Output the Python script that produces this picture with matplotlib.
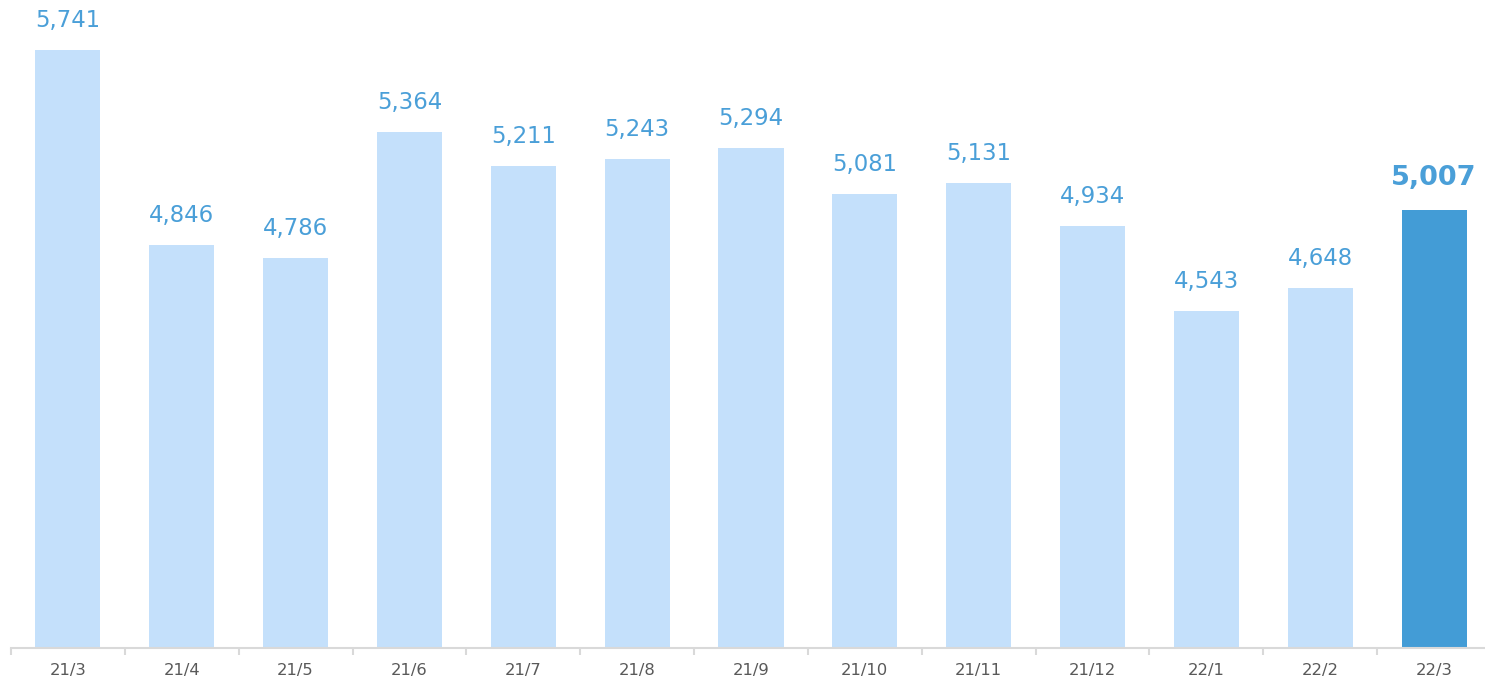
import matplotlib
matplotlib.use("Agg")
import matplotlib.pyplot as plt

categories = ["21/3", "21/4", "21/5", "21/6", "21/7", "21/8", "21/9",
              "21/10", "21/11", "21/12", "22/1", "22/2", "22/3"]
values = [5741, 4846, 4786, 5364, 5211, 5243, 5294, 5081, 5131, 4934, 4543, 4648, 5007]

W, H = 1485, 681
fig = plt.figure(figsize=(W / 100, H / 100), dpi=100)
left = 11 / W
bottom = (H - 647.5) / H
ax = fig.add_axes([left, bottom, 1480 / W, 1 - bottom])

light = "#c4e0fb"
dark = "#439cd6"
label_col = "#4a9fd8"
colors = [light] * (len(values) - 1) + [dark]
x = list(range(len(values)))
ax.bar(x, values, width=0.571, color=colors, bottom=0)
ax.set_ylim(3000, 5972)
ax.set_xlim(-0.5, len(values) - 0.5)

for i, v in enumerate(values):
    last = i == len(values) - 1
    ax.annotate(f"{v:,}", (i, v), xytext=(0, 19 if last else 18),
                textcoords="offset pixels", ha="center", va="bottom",
                fontsize=19.5 if last else 16.4, color=label_col,
                fontweight="bold" if last else "normal")

for s in ["top", "right", "left"]:
    ax.spines[s].set_visible(False)
ax.spines["bottom"].set_color("#d9d9d9")
ax.spines["bottom"].set_linewidth(1.5)
ax.set_yticks([])
ax.set_xticks(x)
ax.set_xticklabels(categories, fontsize=11.8, color="#595959")
ax.tick_params(axis="x", which="major", length=0, pad=11)
ax.set_xticks([k - 0.5 for k in range(len(values) + 1)], minor=True)
ax.tick_params(axis="x", which="minor", length=5, color="#d9d9d9", width=1.5)

fig.savefig("out.png", dpi=100)
